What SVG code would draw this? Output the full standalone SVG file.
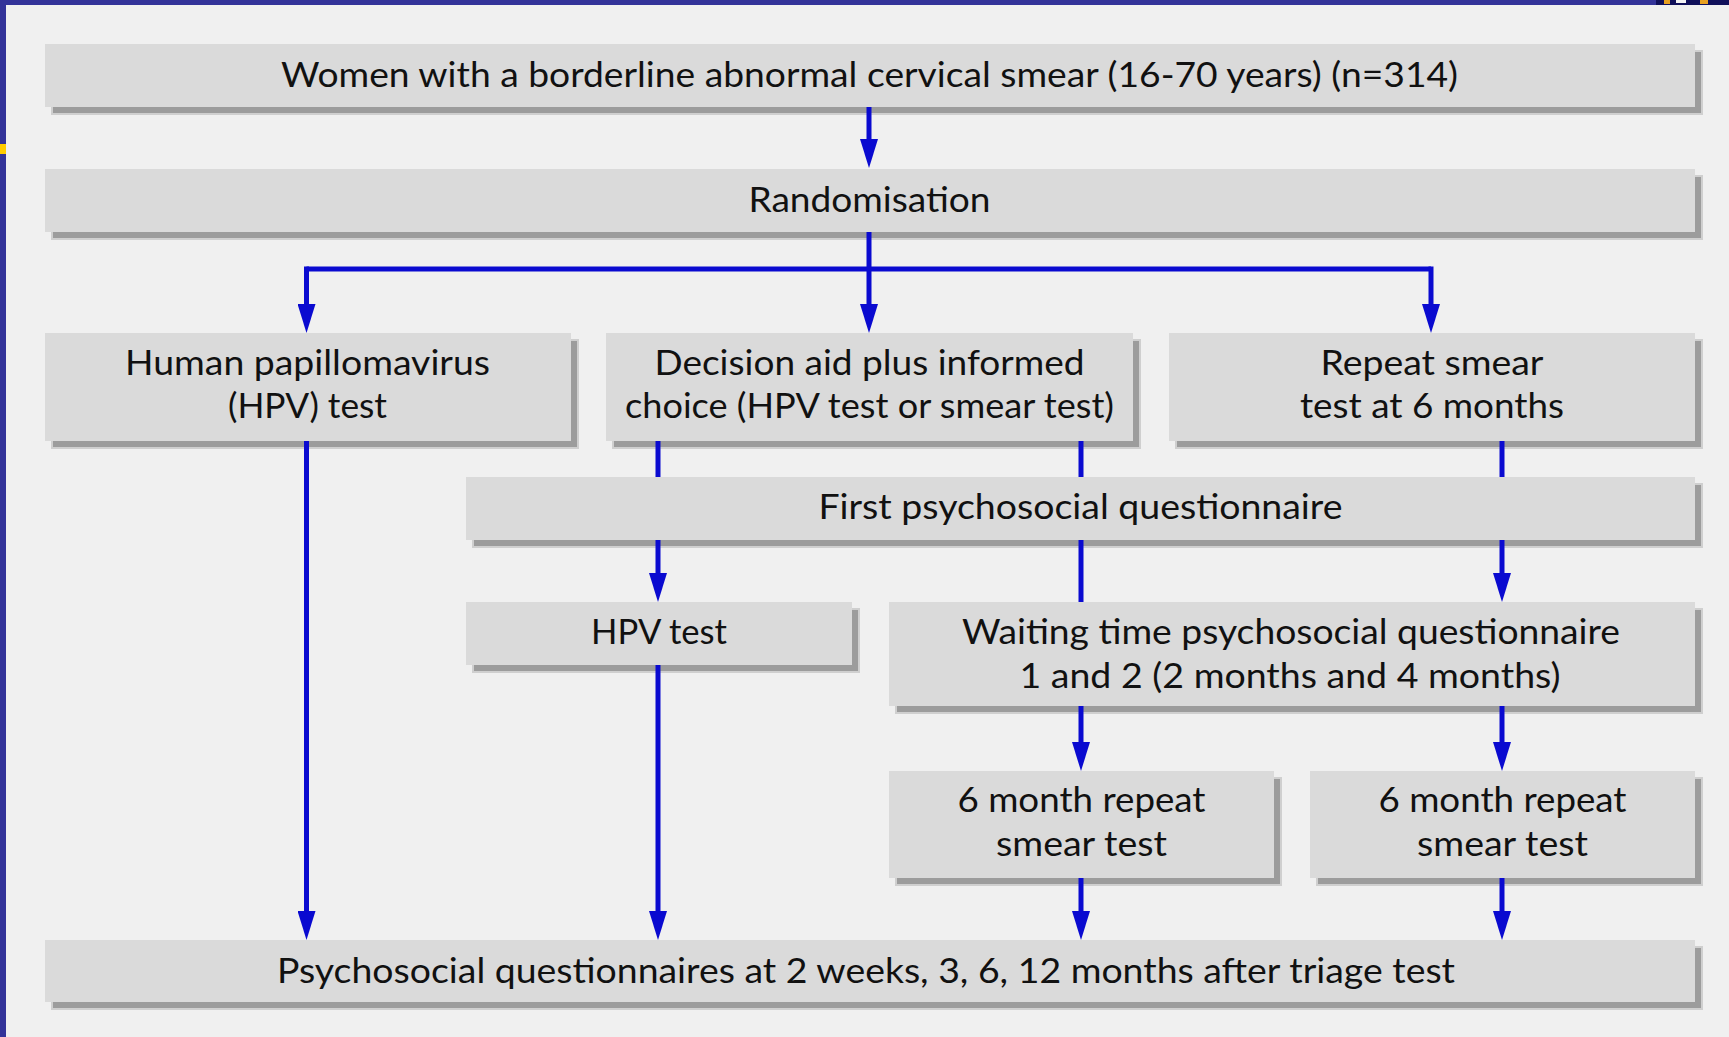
<svg xmlns="http://www.w3.org/2000/svg" width="1729" height="1037" viewBox="0 0 1729 1037">
  <style>
    .bg { fill: #f0f0f0; }
    .box { fill: #dadada; }
    .shadow { fill: #9c9c9c; stroke: #cfcfcf; stroke-width: 2; }
    .label { font-family: "Lato", "Liberation Sans", sans-serif; font-size: 35px; fill: #111111; text-anchor: middle; }
    .conn { stroke: #0a0ad0; stroke-width: 5; fill: none; }
    .arrow { marker-end: url(#head); }
  </style>
  <defs>
    <marker id="head" markerUnits="userSpaceOnUse" viewBox="0 0 29 18" markerWidth="29" markerHeight="18" refX="9" refY="9" orient="auto">
      <path d="M0,0 L29,9 L0,18 Z" fill="#0a0ad0"/>
    </marker>
  </defs>

  <!-- page background and frame -->
  <rect class="bg" x="0" y="0" width="1729" height="1037"/>
  <rect x="0" y="0" width="1729" height="5" fill="#333399"/>
  <rect x="0" y="0" width="6" height="1037" fill="#333399"/>
  <rect x="0" y="144" width="6" height="10" fill="#ffcc00"/>
  <rect x="1656" y="0" width="73" height="5" fill="#10105a"/>
  <rect x="1664" y="0" width="6" height="4" fill="#e8a020"/>
  <rect x="1676" y="0" width="10" height="3" fill="#f4f4f4"/>
  <rect x="1700" y="0" width="8" height="4" fill="#e8a020"/>

  <g id="women">
    <rect class="shadow" x="52" y="51" width="1650" height="63"/>
    <rect class="box" x="45" y="44" width="1650" height="63"/>
    <text class="label" x="869.5" y="87" textLength="1177" lengthAdjust="spacingAndGlyphs">Women with a borderline abnormal cervical smear (16-70 years) (n=314)</text>
  </g>

  <g id="randomisation">
    <rect class="shadow" x="52" y="176" width="1650" height="63"/>
    <rect class="box" x="45" y="169" width="1650" height="63"/>
    <text class="label" x="869.5" y="212" textLength="242" lengthAdjust="spacingAndGlyphs">Randomisation</text>
  </g>

  <g id="hpv-arm">
    <rect class="shadow" x="52" y="340" width="526" height="108"/>
    <rect class="box" x="45" y="333" width="526" height="108"/>
    <text class="label" x="307.5" y="375" textLength="365" lengthAdjust="spacingAndGlyphs">Human papillomavirus</text>
    <text class="label" x="307.5" y="418" textLength="159" lengthAdjust="spacingAndGlyphs">(HPV) test</text>
  </g>

  <g id="decision-arm">
    <rect class="shadow" x="613" y="340" width="527" height="108"/>
    <rect class="box" x="606" y="333" width="527" height="108"/>
    <text class="label" x="869.5" y="375" textLength="430" lengthAdjust="spacingAndGlyphs">Decision aid plus informed</text>
    <text class="label" x="869.5" y="418" textLength="489" lengthAdjust="spacingAndGlyphs">choice (HPV test or smear test)</text>
  </g>

  <g id="repeat-arm">
    <rect class="shadow" x="1176" y="340" width="526" height="108"/>
    <rect class="box" x="1169" y="333" width="526" height="108"/>
    <text class="label" x="1432" y="375" textLength="223" lengthAdjust="spacingAndGlyphs">Repeat smear</text>
    <text class="label" x="1432" y="418" textLength="264" lengthAdjust="spacingAndGlyphs">test at 6 months</text>
  </g>

  <g id="first-questionnaire">
    <rect class="shadow" x="473" y="484" width="1229" height="63"/>
    <rect class="box" x="466" y="477" width="1229" height="63"/>
    <text class="label" x="1080.5" y="519" textLength="524" lengthAdjust="spacingAndGlyphs">First psychosocial questionnaire</text>
  </g>

  <g id="hpv-test">
    <rect class="shadow" x="473" y="609" width="386" height="63"/>
    <rect class="box" x="466" y="602" width="386" height="63"/>
    <text class="label" x="659" y="644" textLength="136" lengthAdjust="spacingAndGlyphs">HPV test</text>
  </g>

  <g id="waiting-questionnaire">
    <rect class="shadow" x="896" y="609" width="806" height="104"/>
    <rect class="box" x="889" y="602" width="806" height="104"/>
    <text class="label" x="1291" y="644" textLength="658" lengthAdjust="spacingAndGlyphs">Waiting time psychosocial questionnaire</text>
    <text class="label" x="1290" y="688" textLength="541" lengthAdjust="spacingAndGlyphs">1 and 2 (2 months and 4 months)</text>
  </g>

  <g id="repeat-smear-a">
    <rect class="shadow" x="896" y="778" width="385" height="107"/>
    <rect class="box" x="889" y="771" width="385" height="107"/>
    <text class="label" x="1081.5" y="812" textLength="248" lengthAdjust="spacingAndGlyphs">6 month repeat</text>
    <text class="label" x="1081.5" y="856" textLength="171" lengthAdjust="spacingAndGlyphs">smear test</text>
  </g>

  <g id="repeat-smear-b">
    <rect class="shadow" x="1317" y="778" width="385" height="107"/>
    <rect class="box" x="1310" y="771" width="385" height="107"/>
    <text class="label" x="1502.5" y="812" textLength="248" lengthAdjust="spacingAndGlyphs">6 month repeat</text>
    <text class="label" x="1502.5" y="856" textLength="171" lengthAdjust="spacingAndGlyphs">smear test</text>
  </g>

  <g id="followup-questionnaires">
    <rect class="shadow" x="52" y="947" width="1650" height="62"/>
    <rect class="box" x="45" y="940" width="1650" height="62"/>
    <text class="label" x="866" y="983" textLength="1178" lengthAdjust="spacingAndGlyphs">Psychosocial questionnaires at 2 weeks, 3, 6, 12 months after triage test</text>
  </g>

  <!-- connectors, drawn over the box shadows -->
  <g id="connectors">
    <path class="conn arrow" d="M869,107 L869,148"/>
    <path class="conn" d="M869,232 L869,269"/>
    <path class="conn" d="M306.5,269 L1431,269"/>
    <path class="conn arrow" d="M306.5,266.5 L306.5,313"/>
    <path class="conn arrow" d="M869,269 L869,313"/>
    <path class="conn arrow" d="M1431,266.5 L1431,313"/>

    <path class="conn arrow" d="M306.5,441 L306.5,920"/>

    <path class="conn" d="M658,441 L658,477"/>
    <path class="conn arrow" d="M658,540 L658,582"/>
    <path class="conn arrow" d="M658,665 L658,920"/>

    <path class="conn" d="M1081,441 L1081,477"/>
    <path class="conn" d="M1081,540 L1081,602"/>
    <path class="conn arrow" d="M1081,706 L1081,751"/>
    <path class="conn arrow" d="M1081,878 L1081,920"/>

    <path class="conn" d="M1502,441 L1502,477"/>
    <path class="conn arrow" d="M1502,540 L1502,582"/>
    <path class="conn arrow" d="M1502,706 L1502,751"/>
    <path class="conn arrow" d="M1502,878 L1502,920"/>
  </g>
</svg>
